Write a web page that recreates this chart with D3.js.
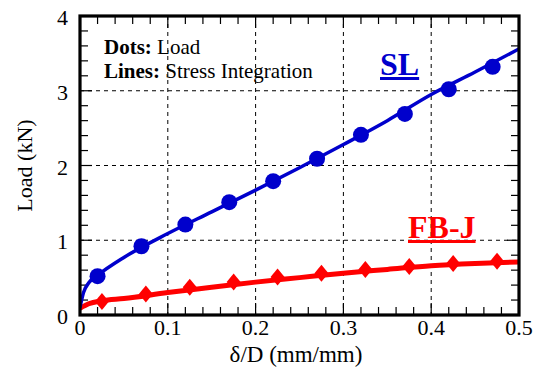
<!DOCTYPE html>
<html>
<head>
<meta charset="utf-8">
<script src="https://cdn.jsdelivr.net/npm/d3@7"></script>
<style>
  body { margin: 0; background: #fff; }
</style>
</head>
<body>
<svg id="chart" width="542" height="372" font-family="'Liberation Serif', 'Times New Roman', 'DejaVu Serif', serif"></svg>
<script>
// --- data ---
const slDotX = [0.02, 0.07, 0.12, 0.17, 0.22, 0.27, 0.32, 0.37, 0.42, 0.47];
const slDotY = [0.52, 0.92, 1.21, 1.51, 1.79, 2.09, 2.41, 2.69, 3.02, 3.32];
const slLineX = [0, 0.004, 0.01, 0.02, 0.05, 0.1, 0.15, 0.2, 0.25, 0.3, 0.35, 0.4, 0.45, 0.5];
const slLineY = [0.1, 0.3, 0.43, 0.53, 0.77, 1.09, 1.38, 1.67, 1.97, 2.28, 2.6, 2.95, 3.25, 3.56];

const fbDotX = [0.025, 0.075, 0.125, 0.175, 0.225, 0.275, 0.325, 0.375, 0.425, 0.475];
const fbDotY = [0.18, 0.28, 0.37, 0.44, 0.51, 0.56, 0.61, 0.65, 0.69, 0.72];
const fbLineX = [0, 0.01, 0.025, 0.05, 0.1, 0.15, 0.2, 0.25, 0.3, 0.35, 0.4, 0.45, 0.5];
const fbLineY = [0.09, 0.15, 0.19, 0.22, 0.30, 0.37, 0.44, 0.5, 0.56, 0.61, 0.66, 0.69, 0.71];

const xTicks = [0, 0.1, 0.2, 0.3, 0.4, 0.5];
const yTicks = [0, 1, 2, 3, 4];

const BLUE = "#0000cc";
const RED = "#ff0000";

const svg = d3.select("#chart");
const pl = 80, pr = 519, pt = 16, pb = 315;

const x = d3.scaleLinear().domain([0, 0.5]).range([pl, pr]);
const y = d3.scaleLinear().domain([0, 4]).range([pb, pt]);

// grid (dashed at major ticks)
svg.append("g").selectAll("line")
  .data(xTicks.slice(1, -1)).enter().append("line")
  .attr("x1", d => x(d)).attr("x2", d => x(d))
  .attr("y1", pt).attr("y2", pb)
  .attr("stroke", "#000").attr("stroke-width", 1).attr("stroke-dasharray", "4,4");
svg.append("g").selectAll("line")
  .data(yTicks.slice(1, -1)).enter().append("line")
  .attr("x1", pl).attr("x2", pr)
  .attr("y1", d => y(d)).attr("y2", d => y(d))
  .attr("stroke", "#000").attr("stroke-width", 1).attr("stroke-dasharray", "4,4");

// inner ticks on all sides
const xMinor = d3.range(0, 0.5001, 0.02);
const yMinor = d3.range(0, 4.001, 0.2);
const isMajor = (v, step) => Math.abs(v / step - Math.round(v / step)) < 1e-6;
const tg = svg.append("g").attr("stroke", "#000").attr("stroke-width", 1.2);
xMinor.forEach(v => {
  const len = isMajor(v, 0.1) ? 12 : 8;
  tg.append("line").attr("x1", x(v)).attr("x2", x(v)).attr("y1", pb).attr("y2", pb - len);
  tg.append("line").attr("x1", x(v)).attr("x2", x(v)).attr("y1", pt).attr("y2", pt + len);
});
yMinor.forEach(v => {
  const len = isMajor(v, 1) ? 12 : 8;
  tg.append("line").attr("x1", pl).attr("x2", pl + len).attr("y1", y(v)).attr("y2", y(v));
  tg.append("line").attr("x1", pr).attr("x2", pr - len).attr("y1", y(v)).attr("y2", y(v));
});

// tick labels
svg.append("g").selectAll("text")
  .data(xTicks).enter().append("text")
  .attr("x", d => x(d)).attr("y", 335)
  .attr("text-anchor", "middle").attr("font-size", 22)
  .text(d => d === 0 ? "0" : d3.format(".1f")(d));
svg.append("g").selectAll("text")
  .data(yTicks).enter().append("text")
  .attr("x", 68).attr("y", d => y(d) + 9)
  .attr("text-anchor", "end").attr("font-size", 22)
  .text(d => d);

// axis titles
svg.append("text").attr("x", 296).attr("y", 362)
  .attr("text-anchor", "middle").attr("font-size", 23).text("δ/D (mm/mm)");
svg.append("text").attr("transform", `translate(32,${(pt + pb) / 2}) rotate(-90)`)
  .attr("text-anchor", "middle").attr("font-size", 22).text("Load (kN)");

// clip
svg.append("clipPath").attr("id", "clip").append("rect")
  .attr("x", pl).attr("y", pt).attr("width", pr - pl).attr("height", pb - pt);

const line = d3.line().x(d => x(d[0])).y(d => y(d[1])).curve(d3.curveMonotoneX);
const plot = svg.append("g").attr("clip-path", "url(#clip)");

plot.append("path").datum(d3.zip(fbLineX, fbLineY))
  .attr("d", line).attr("fill", "none").attr("stroke", RED).attr("stroke-width", 5);
plot.append("path").datum(d3.zip(slLineX, slLineY))
  .attr("d", line).attr("fill", "none").attr("stroke", BLUE).attr("stroke-width", 3.5);

plot.selectAll("circle").data(d3.zip(slDotX, slDotY)).enter().append("circle")
  .attr("cx", d => x(d[0])).attr("cy", d => y(d[1])).attr("r", 8).attr("fill", BLUE);

const diamond = (cx, cy) => `M${cx},${cy - 8.5}L${cx + 7},${cy}L${cx},${cy + 8.5}L${cx - 7},${cy}Z`;
plot.selectAll("path.fb").data(d3.zip(fbDotX, fbDotY)).enter().append("path")
  .attr("class", "fb")
  .attr("d", d => diamond(x(d[0]), y(d[1]))).attr("fill", RED);

// frame
svg.append("rect").attr("x", pl).attr("y", pt)
  .attr("width", pr - pl).attr("height", pb - pt)
  .attr("fill", "none").attr("stroke", "#000").attr("stroke-width", 3.2);

// annotation text
const note = svg.append("g").attr("font-size", 21);
const t1 = note.append("text").attr("x", 104).attr("y", 54);
t1.append("tspan").attr("font-weight", "bold").text("Dots:");
t1.append("tspan").text(" Load");
const t2 = note.append("text").attr("x", 104).attr("y", 78);
t2.append("tspan").attr("font-weight", "bold").text("Lines:");
t2.append("tspan").text(" Stress Integration");

// series labels with underline
function seriesLabel(label, lx, ly, color) {
  const t = svg.append("text").attr("x", lx).attr("y", ly)
    .attr("font-size", 32).attr("font-weight", "bold").attr("fill", color).text(label);
  const w = t.node().getComputedTextLength();
  svg.append("rect").attr("x", lx).attr("y", ly + 2).attr("width", w).attr("height", 3).attr("fill", color);
}
seriesLabel("SL", 380, 75, BLUE);
seriesLabel("FB-J", 408, 238, RED);
</script>
</body>
</html>
